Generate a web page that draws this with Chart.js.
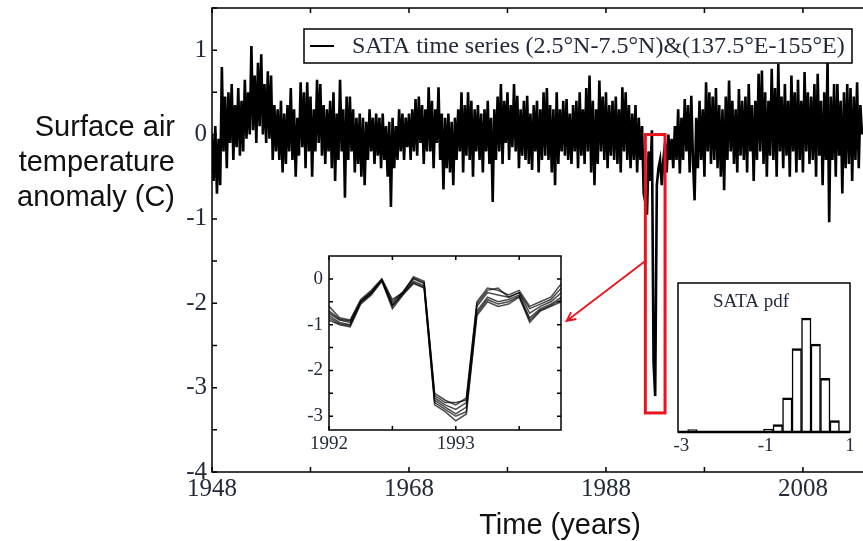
<!DOCTYPE html>
<html>
<head>
<meta charset="utf-8">
<title>SATA time series</title>
<script src="https://cdn.jsdelivr.net/npm/chart.js@4.4.1/dist/chart.umd.min.js"></script>
<style>
  html, body { margin: 0; padding: 0; background: #fff; }
  #wrap { position: relative; width: 863px; height: 541px; overflow: hidden; }
  #wrap canvas { position: absolute; }
  #mainChart { left: 0; top: 0; }
  #zoomChart { left: 270px; top: 250px; }
  #pdfChart { left: 640px; top: 260px; }
</style>
</head>
<body>
<div id="wrap">
  <canvas id="mainChart" width="863" height="541"></canvas>
  <canvas id="zoomChart" width="300" height="210"></canvas>
  <canvas id="pdfChart" width="223" height="200"></canvas>
</div>
<script>
// Main series, one sample every two months from 1948.0 (one row per year)
const sataStart = 1948;
const sataStep = 1 / 6;
const sataValues = [
  0.0, -0.55, 0.1, -0.7, -0.05, -0.6,
  0.8, -0.2, 0.45, -0.4, 0.5, -0.1,
  0.6, -0.3, 0.35, -0.15, 0.55, -0.25,
  0.4, -0.2, 0.65, -0.05, 0.5, 0.0,
  1.05, 0.05, 0.7, -0.1, 0.85, 0.1,
  0.95, 0.0, 0.6, -0.1, 0.75, -0.05,
  0.7, -0.3, 0.35, -0.2, 0.3, -0.3,
  0.4, -0.45, 0.25, -0.35, 0.35, -0.2,
  0.55, -0.3, 0.3, -0.5, 0.2, -0.25,
  0.62, -0.15, 0.5, -0.4, 0.62, -0.2,
  0.45, -0.5, 0.3, -0.2, 0.65, -0.1,
  0.6, -0.25, 0.35, -0.35, 0.3, -0.2,
  0.4, -0.4, 0.5, -0.55, 0.25, -0.3,
  0.65, -0.2, 0.3, -0.75, 0.45, -0.3,
  0.45, -0.2, 0.3, -0.45, 0.2, -0.35,
  0.25, -0.5, 0.2, -0.6, 0.15, -0.3,
  0.3, -0.2, 0.2, -0.35, 0.25, -0.25,
  0.2, -0.4, 0.25, -0.3, 0.1, -0.5,
  0.15, -0.86, 0.2, -0.4, 0.1, -0.3,
  0.3, -0.2, 0.25, -0.3, 0.2, -0.15,
  0.25, -0.3, 0.3, -0.2, 0.42, -0.25,
  0.45, -0.1, 0.35, -0.35, 0.3, -0.2,
  0.56, -0.2, 0.4, -0.4, 0.3, -0.1,
  0.56, -0.3, 0.25, -0.65, 0.2, -0.4,
  0.25, -0.45, 0.15, -0.6, 0.2, -0.3,
  0.3, -0.2, 0.5, -0.45, 0.35, -0.25,
  0.5, -0.3, 0.4, -0.5, 0.3, -0.2,
  0.35, -0.3, 0.25, -0.45, 0.3, -0.2,
  0.4, -0.35, 0.2, -0.8, 0.3, -0.3,
  0.45, -0.2, 0.6, -0.35, 0.4, -0.1,
  0.5, -0.3, 0.35, -0.15, 0.6, -0.2,
  0.46, -0.4, 0.3, -0.25, 0.4, -0.3,
  0.46, -0.35, 0.25, -0.42, 0.35, -0.2,
  0.4, -0.45, 0.3, -0.3, 0.5, -0.25,
  0.55, -0.3, 0.35, -0.45, 0.3, -0.6,
  0.5, -0.35, 0.3, -0.2, 0.4, -0.25,
  0.42, -0.3, 0.25, -0.35, 0.35, -0.2,
  0.4, -0.4, 0.5, -0.25, 0.3, -0.35,
  0.55, -0.2, 0.7, -0.45, 0.4, -0.6,
  0.3, -0.35, 0.64, -0.2, 0.45, -0.3,
  0.5, -0.4, 0.35, -0.25, 0.4, -0.3,
  0.45, -0.35, 0.3, -0.45, 0.56, -0.2,
  0.5, -0.3, 0.35, -0.4, 0.25, -0.3,
  0.35, -0.45, 0.2, -0.3, 0.1, -0.7,
  -0.8, -0.95, -0.2, -0.55, 0.05, -2.7,
  -3.1, -0.6, -0.4, -0.3, -0.6, -0.3,
  -0.1, -0.45, 0.0, -0.3, -0.05, -0.4,
  0.1, -0.3, 0.3, -0.46, 0.2, -0.3,
  0.42, -0.2, 0.35, -0.45, 0.46, -0.3,
  -0.78, 0.2, -0.4, 0.4, -0.3, 0.3,
  -0.5, 0.62, -0.2, 0.5, -0.35, 0.45,
  -0.3, 0.55, -0.4, 0.35, -0.5, 0.3,
  -0.66, 0.45, -0.3, 0.64, -0.2, 0.4,
  -0.35, 0.3, -0.45, 0.54, -0.25, 0.4,
  -0.3, 0.45, -0.45, 0.6, -0.2, 0.35,
  -0.55, 0.4, -0.3, 0.72, -0.2, 0.76,
  -0.35, 0.5, -0.5, 0.4, -0.25, 0.78,
  -0.3, 0.55, -0.5, 0.84, -0.2, 0.45,
  -0.4, 0.6, -0.25, 0.4, -0.5, 0.7,
  -0.2, 0.5, -0.45, 0.65, -0.3, 0.4,
  -0.45, 0.74, -0.2, 0.5, -0.35, 0.45,
  -0.3, 0.6, -0.5, 0.72, -0.25, 0.4,
  -0.6, 0.5, -0.3, 0.86, -1.04, 0.45,
  -0.3, 0.6, -0.5, 0.6, -0.25, 0.4,
  -0.7, 0.5, -0.4, 0.6, -0.35, 0.55,
  -0.55, 0.45, -0.3, 0.62, -0.4, 0.35,
  0.0
];

const xTickYears = [1948, 1958, 1968, 1978, 1988, 1998, 2008];
const xLabelYears = [1948, 1968, 1988, 2008];
const yTickValues = [-4, -3.5, -3, -2.5, -2, -1.5, -1, -0.5, 0, 0.5, 1, 1.5];
const yLabelValues = [-4, -3, -2, -1, 0, 1];

// highlighted window and arrow (data coordinates of the main plot)
const boxYears = [1992, 1994];
const boxRange = [0, -3.3];
const arrowFrom = [1992, -1.5];
const arrowTo = [1984.0, -2.21];

// Zoom inset: monthly ensemble members, Jan 1992 .. Nov 1993
const zoomStart = 1992;
const zoomStep = 1 / 12;
const memberA = [-0.75, -0.9, -0.95, -0.5, -0.3, -0.02, -0.55, -0.3, 0.0, -0.1, -2.6, -2.75, -2.85, -2.7, -0.6, -0.3, -0.35, -0.4, -0.3, -0.75, -0.6, -0.5, -0.3];
const memberB = [-0.6, -0.85, -0.9, -0.45, -0.25, 0.0, -0.45, -0.3, 0.05, -0.05, -2.5, -2.65, -2.75, -2.6, -0.5, -0.2, -0.25, -0.35, -0.25, -0.6, -0.5, -0.4, -0.1];
const memberC = [-0.9, -1.0, -1.05, -0.55, -0.35, -0.05, -0.65, -0.35, -0.1, -0.2, -2.75, -2.9, -3.1, -2.95, -0.8, -0.5, -0.6, -0.55, -0.4, -0.95, -0.7, -0.6, -0.5];
const memberD = [-0.8, -0.95, -1.0, -0.5, -0.3, -0.03, -0.6, -0.32, -0.05, -0.15, -2.65, -2.8, -2.95, -2.8, -0.7, -0.4, -0.5, -0.45, -0.35, -0.85, -0.65, -0.55, -0.4];
const memberE = [-0.7, -0.88, -0.92, -0.48, -0.28, -0.01, -0.5, -0.28, 0.02, -0.08, -2.55, -2.7, -2.7, -2.65, -0.55, -0.25, -0.2, -0.4, -0.3, -0.65, -0.55, -0.45, -0.2];
const memberF = [-0.85, -0.98, -1.02, -0.52, -0.33, -0.04, -0.58, -0.33, -0.08, -0.18, -2.7, -2.85, -3.0, -2.9, -0.75, -0.45, -0.55, -0.5, -0.38, -0.9, -0.68, -0.58, -0.45];
const zoomMembers = [memberA, memberB, memberC, memberD, memberE, memberF];
const zoomXTicks = [1992, 1992.5, 1993, 1993.5];
const zoomXLabels = [1992, 1993];
const zoomYTicks = [-3, -2.5, -2, -1.5, -1, -0.5, 0];
const zoomYLabels = [-3, -2, -1, 0];

// PDF inset: bin centres and relative heights
const pdfBins = [-2.7375, -0.9375, -0.7125, -0.4875, -0.2625, -0.0375, 0.1875, 0.4125, 0.6375];
const pdfValues = [0.016, 0.02, 0.05, 0.23, 0.56, 0.765, 0.59, 0.36, 0.076];
const pdfXLabels = [-3, -1, 1];

const serif = '"Liberation Serif", "Times New Roman", serif';
const sans = '"Liberation Sans", Arial, sans-serif';
const tickColor = '#232a3a';

// frame + inward tick marks for the small plots
function framePlugin(xTicks, yTicks, len, extra) {
  return {
    id: 'frame',
    afterDraw(chart) {
      const { ctx, chartArea: a, scales: { x, y } } = chart;
      ctx.save();
      ctx.strokeStyle = '#000';
      ctx.lineWidth = 1.5;
      ctx.strokeRect(a.left, a.top, a.right - a.left, a.bottom - a.top);
      ctx.beginPath();
      xTicks.forEach(v => {
        const px = x.getPixelForValue(v);
        ctx.moveTo(px, a.top); ctx.lineTo(px, a.top + len);
        ctx.moveTo(px, a.bottom); ctx.lineTo(px, a.bottom - len);
      });
      yTicks.forEach(v => {
        const py = y.getPixelForValue(v);
        ctx.moveTo(a.left, py); ctx.lineTo(a.left + len, py);
        ctx.moveTo(a.right, py); ctx.lineTo(a.right - len, py);
      });
      ctx.stroke();
      if (extra) extra(ctx, a);
      ctx.restore();
    }
  };
}

const mainDecor = {
  id: 'mainDecor',
  afterDraw(chart) {
    const { ctx, chartArea: a, scales: { x, y } } = chart;
    ctx.save();
    // axes (right side runs off the picture)
    ctx.strokeStyle = '#000';
    ctx.lineWidth = 1.5;
    ctx.beginPath();
    ctx.moveTo(a.right + 2, a.top); ctx.lineTo(a.left, a.top);
    ctx.lineTo(a.left, a.bottom); ctx.lineTo(a.right + 2, a.bottom);
    ctx.stroke();
    ctx.beginPath();
    yTickValues.forEach(v => {
      const py = y.getPixelForValue(v);
      ctx.moveTo(a.left, py); ctx.lineTo(a.left + 5, py);
    });
    xTickYears.forEach(v => {
      const px = x.getPixelForValue(v);
      ctx.moveTo(px, a.top); ctx.lineTo(px, a.top + 5);
      ctx.moveTo(px, a.bottom); ctx.lineTo(px, a.bottom - 5);
    });
    ctx.stroke();

    // red highlight box
    const bx0 = x.getPixelForValue(boxYears[0]), bx1 = x.getPixelForValue(boxYears[1]);
    const by0 = y.getPixelForValue(boxRange[0]), by1 = y.getPixelForValue(boxRange[1]);
    ctx.strokeStyle = '#e8141e';
    ctx.lineWidth = 3;
    ctx.strokeRect(bx0, by0, bx1 - bx0, by1 - by0);

    // arrow to the zoom inset
    const ax0 = x.getPixelForValue(arrowFrom[0]), ay0 = y.getPixelForValue(arrowFrom[1]);
    const ax1 = x.getPixelForValue(arrowTo[0]), ay1 = y.getPixelForValue(arrowTo[1]);
    const ang = Math.atan2(ay1 - ay0, ax1 - ax0);
    ctx.lineWidth = 1.8;
    ctx.beginPath();
    ctx.moveTo(ax0, ay0); ctx.lineTo(ax1, ay1);
    ctx.moveTo(ax1 - 10 * Math.cos(ang - 0.45), ay1 - 10 * Math.sin(ang - 0.45));
    ctx.lineTo(ax1, ay1);
    ctx.lineTo(ax1 - 10 * Math.cos(ang + 0.45), ay1 - 10 * Math.sin(ang + 0.45));
    ctx.stroke();

    // legend box
    ctx.fillStyle = '#fff';
    ctx.fillRect(304, 29, 548, 34);
    ctx.strokeStyle = '#000';
    ctx.lineWidth = 1.5;
    ctx.strokeRect(304, 29, 548, 34);
    ctx.lineWidth = 2;
    ctx.beginPath();
    ctx.moveTo(310, 46); ctx.lineTo(334, 46);
    ctx.stroke();
    const label = chart.data.datasets[0].label;
    ctx.font = '20px ' + serif;
    const size = 20 * 493 / ctx.measureText(label).width;
    ctx.font = size.toFixed(2) + 'px ' + serif;
    ctx.fillStyle = tickColor;
    ctx.textBaseline = 'middle';
    ctx.textAlign = 'left';
    ctx.fillText(label, 352, 47);

    // axis titles
    ctx.fillStyle = '#111';
    ctx.font = '29px ' + sans;
    ctx.textAlign = 'right';
    ['Surface air', 'temperature', 'anomaly (C)'].forEach((t, i) => ctx.fillText(t, 175, 128 + i * 35));
    ctx.textAlign = 'center';
    ctx.fillText('Time (years)', 560, 526);
    ctx.restore();
  }
};

new Chart(document.getElementById('mainChart'), {
  type: 'line',
  data: {
    datasets: [{
      label: 'SATA time series (2.5\u00B0N-7.5\u00B0N)&(137.5\u00B0E-155\u00B0E)',
      data: sataValues.map((v, i) => ({ x: sataStart + i * sataStep, y: v })),
      borderColor: '#000',
      borderWidth: 2.6,
      pointRadius: 0,
      tension: 0
    }]
  },
  options: {
    responsive: false,
    animation: false,
    layout: { padding: { top: 8, right: 0, left: 0, bottom: 0 } },
    plugins: { legend: { display: false }, tooltip: { enabled: false } },
    scales: {
      x: {
        type: 'linear', min: 1948, max: 2014.1,
        grid: { display: false, drawTicks: false }, border: { display: false },
        afterBuildTicks: s => { s.ticks = xTickYears.map(v => ({ value: v })); },
        afterFit: s => { s.height = 69; s.paddingLeft = 0; s.paddingRight = 0; },
        ticks: {
          autoSkip: false, maxRotation: 0, padding: 2, color: tickColor,
          font: { family: serif, size: 25 },
          callback: v => xLabelYears.includes(v) ? String(v) : ''
        }
      },
      y: {
        min: -4, max: 1.5,
        grid: { display: false, drawTicks: false }, border: { display: false },
        afterBuildTicks: s => { s.ticks = yLabelValues.map(v => ({ value: v })); },
        afterFit: s => { s.width = 212; s.paddingTop = 0; s.paddingBottom = 0; },
        ticks: { padding: 5, color: tickColor, font: { family: serif, size: 25 }, callback: v => String(v) }
      }
    }
  },
  plugins: [mainDecor]
});

new Chart(document.getElementById('zoomChart'), {
  type: 'line',
  data: {
    datasets: zoomMembers.map(m => ({
      data: m.map((v, i) => ({ x: zoomStart + i * zoomStep, y: v })),
      borderColor: 'rgba(0,0,0,0.7)',
      borderWidth: 1.5,
      pointRadius: 0,
      tension: 0
    }))
  },
  options: {
    responsive: false,
    animation: false,
    layout: { padding: { top: 6, right: 9, left: 0, bottom: 0 } },
    plugins: { legend: { display: false }, tooltip: { enabled: false } },
    scales: {
      x: {
        type: 'linear', min: 1992, max: 1993.83,
        grid: { display: false, drawTicks: false }, border: { display: false },
        afterBuildTicks: s => { s.ticks = zoomXLabels.map(v => ({ value: v })); },
        afterFit: s => { s.height = 30; s.paddingLeft = 0; s.paddingRight = 0; },
        ticks: { autoSkip: false, maxRotation: 0, padding: 3, color: tickColor, font: { family: serif, size: 19 }, callback: v => String(v) }
      },
      y: {
        min: -3.3, max: 0.5,
        grid: { display: false, drawTicks: false }, border: { display: false },
        afterBuildTicks: s => { s.ticks = zoomYLabels.map(v => ({ value: v })); },
        afterFit: s => { s.width = 59; s.paddingTop = 0; s.paddingBottom = 0; },
        ticks: { padding: 6, color: tickColor, font: { family: serif, size: 19 }, callback: v => String(v) }
      }
    }
  },
  plugins: [framePlugin(zoomXTicks, zoomYTicks, 4)]
});

new Chart(document.getElementById('pdfChart'), {
  type: 'bar',
  data: {
    datasets: [{
      data: pdfBins.map((b, i) => ({ x: b, y: pdfValues[i] })),
      backgroundColor: '#fff',
      borderColor: '#000',
      borderWidth: { top: 2.5, left: 1.5, right: 1.5, bottom: 0 },
      borderSkipped: 'start',
      barPercentage: 1,
      categoryPercentage: 1
    }]
  },
  options: {
    responsive: false,
    animation: false,
    layout: { padding: { top: 23, right: 13, left: 38, bottom: 0 } },
    plugins: { legend: { display: false }, tooltip: { enabled: false } },
    scales: {
      x: {
        type: 'linear', min: -3.08, max: 1.0, offset: false,
        grid: { display: false, drawTicks: false, offset: false }, border: { display: false },
        afterBuildTicks: s => { s.ticks = pdfXLabels.map(v => ({ value: v })); },
        afterFit: s => { s.height = 28; s.paddingLeft = 0; s.paddingRight = 0; },
        ticks: { autoSkip: false, maxRotation: 0, padding: 3, color: tickColor, font: { family: serif, size: 19 }, callback: v => String(v) }
      },
      y: { min: 0, max: 1, display: false }
    }
  },
  plugins: [framePlugin([], [], 0, (ctx, a) => {
    ctx.lineWidth = 2.5;
    ctx.beginPath();
    ctx.moveTo(a.left, a.bottom); ctx.lineTo(a.right, a.bottom);
    ctx.stroke();
    ctx.fillStyle = tickColor;
    ctx.font = '19px ' + serif;
    ctx.textAlign = 'center';
    ctx.textBaseline = 'middle';
    ctx.fillText('SATA pdf', a.left + 73, a.top + 19);
  })]
});
</script>
</body>
</html>
